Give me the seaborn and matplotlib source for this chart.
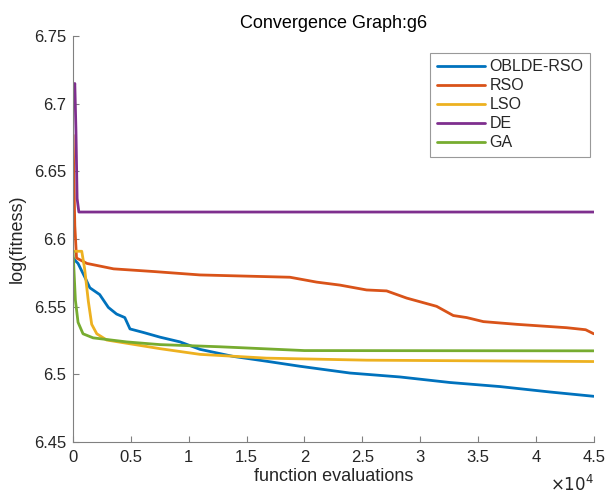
import numpy as np
import pandas as pd
import matplotlib
matplotlib.use("Agg")
import matplotlib.pyplot as plt
import seaborn as sns

# data (function evaluations, log(fitness))
algos = ["OBLDE-RSO", "RSO", "LSO", "DE", "GA"]
colors = ["#0072BD", "#D95319", "#EDB120", "#7E2F8E", "#77AC30"]

x_oblde = [0, 200, 430, 1010, 1450, 2300, 3050, 3760, 4470, 4920, 6070, 7520, 9250,
           10970, 13830, 16730, 19610, 23930, 28250, 32570, 36890, 41200, 45000]
y_oblde = [6.586, 6.584, 6.582, 6.572, 6.564, 6.559, 6.5495, 6.5446, 6.542, 6.5336, 6.531,
           6.5275, 6.524, 6.5185, 6.5133, 6.5097, 6.506, 6.501, 6.4981, 6.494, 6.491, 6.487, 6.4838]

x_rso = [0, 150, 300, 1200, 3500, 7000, 10970, 18745, 21050, 23060, 25370, 27100, 28830,
         31420, 32860, 34015, 35460, 38340, 42660, 44300, 45000]
y_rso = [6.677, 6.61, 6.586, 6.582, 6.578, 6.576, 6.5735, 6.5718, 6.5682, 6.566, 6.5624,
         6.5617, 6.5564, 6.5503, 6.5435, 6.542, 6.539, 6.537, 6.5345, 6.533, 6.530]

x_lso = [0, 750, 1000, 1320, 1610, 2050, 2910, 4640, 7520, 10970, 16730, 25370, 45000]
y_lso = [6.591, 6.591, 6.578, 6.554, 6.537, 6.530, 6.5254, 6.523, 6.519, 6.5148, 6.512,
         6.5105, 6.5095]

x_de = [0, 150, 250, 350, 500, 45000]
y_de = [6.707, 6.715, 6.68, 6.63, 6.620, 6.620]

x_ga = [0, 200, 430, 860, 1730, 4640, 7520, 12700, 20000, 45000]
y_ga = [6.591, 6.555, 6.5385, 6.530, 6.527, 6.524, 6.522, 6.5204, 6.5176, 6.5174]

xs = [x_oblde, x_rso, x_lso, x_de, x_ga]
ys = [y_oblde, y_rso, y_lso, y_de, y_ga]

frames = []
for name, xv, yv in zip(algos, xs, ys):
    frames.append(pd.DataFrame({"evals": xv, "fit": yv, "algo": name}))
df = pd.concat(frames, ignore_index=True)

sns.set_style("white")
plt.rcParams["font.family"] = ["Liberation Sans", "DejaVu Sans"]

fig = plt.figure(figsize=(6.14, 4.95), dpi=100)
ax = fig.add_axes([0.119, 0.107, 0.848, 0.820])

sns.lineplot(data=df, x="evals", y="fit", hue="algo", hue_order=algos,
             palette=colors, sort=False, estimator=None, linewidth=2, ax=ax)

ax.set_xlim(0, 45000)
ax.set_ylim(6.45, 6.75)
ax.set_xticks(np.arange(0, 45001, 5000))
ax.set_xticklabels(["0", "0.5", "1", "1.5", "2", "2.5", "3", "3.5", "4", "4.5"])
ax.set_yticks([6.45, 6.5, 6.55, 6.6, 6.65, 6.7, 6.75])
ax.set_yticklabels(["6.45", "6.5", "6.55", "6.6", "6.65", "6.7", "6.75"])
ax.tick_params(direction="in", length=4, labelsize=12, colors="#262626",
               bottom=True, left=True, color="#808080")
ax.tick_params(axis="x", pad=6)
ax.tick_params(axis="y", pad=5)

for s in ["top", "right"]:
    ax.spines[s].set_visible(False)
for s in ["left", "bottom"]:
    ax.spines[s].set_color("#808080")
    ax.spines[s].set_linewidth(0.8)

ax.set_xlabel("function evaluations", fontsize=13, color="#262626", labelpad=2)
ax.set_ylabel("log(fitness)", fontsize=13, color="#262626", labelpad=6)
ax.set_title("Convergence Graph:g6", fontsize=13, color="black", pad=6)
ax.text(1.0, -0.078, r"$\times10^4$", transform=ax.transAxes, ha="right", va="top",
        fontsize=12, color="#262626")

leg = ax.legend(loc="upper right", fontsize=11.5, frameon=True, fancybox=False,
                handlelength=3.0, borderpad=0.4, labelspacing=0.25,
                handletextpad=0.3, bbox_to_anchor=(1.008, 0.978))
leg.get_frame().set_edgecolor("#808080")
leg.get_frame().set_linewidth(0.8)
for line in leg.get_lines():
    line.set_linewidth(2)

fig.savefig("out.png", dpi=100)
